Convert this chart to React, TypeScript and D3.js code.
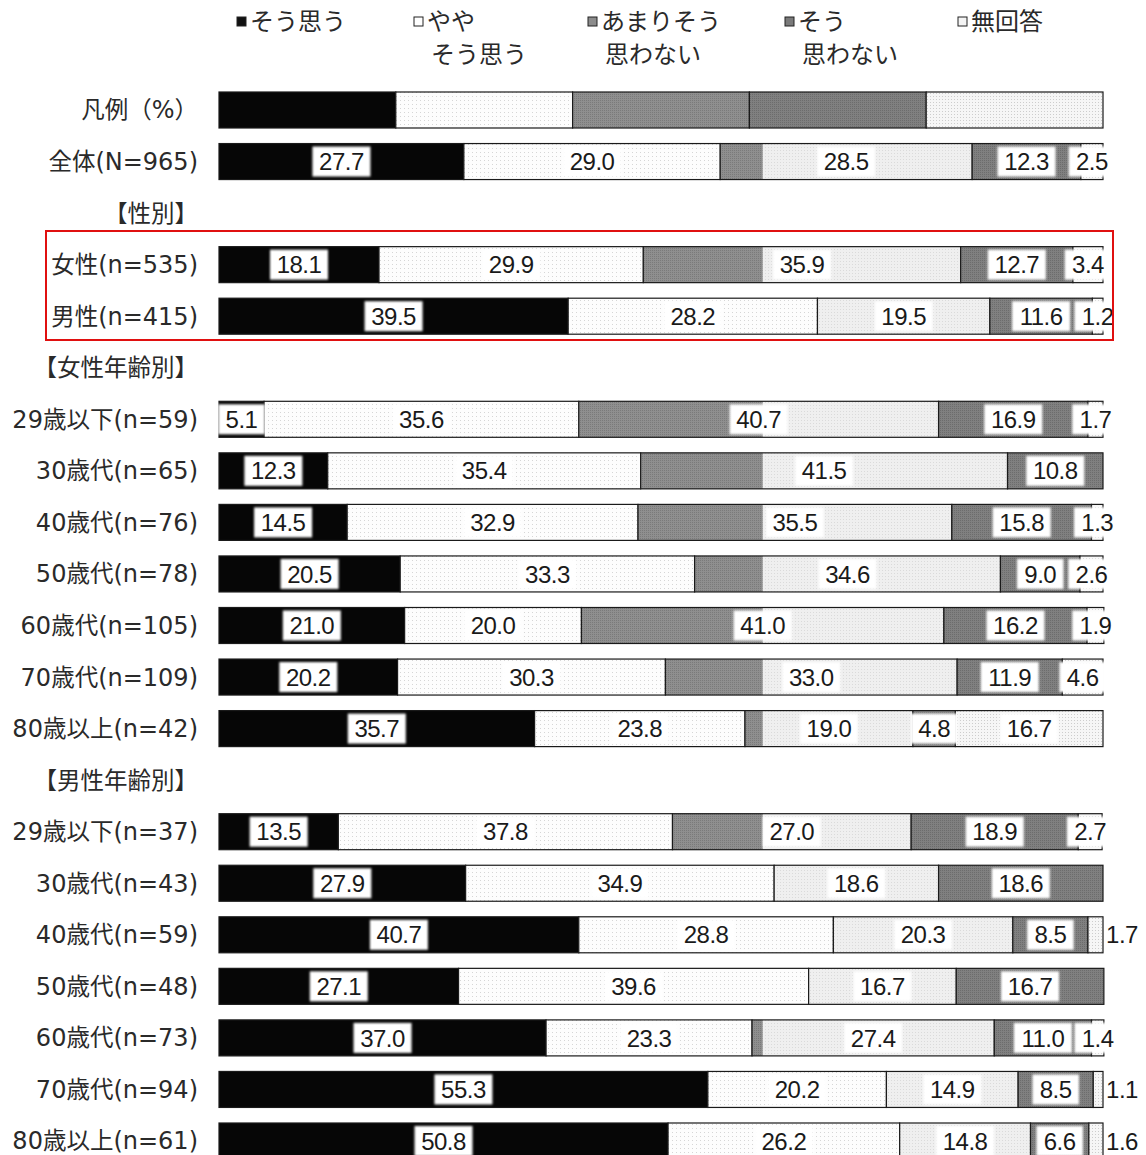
import React from "react";
import * as d3 from "d3";

const rowLabels = [
  "凡例（%）", "全体(N=965)", "【性別】", "女性(n=535)", "男性(n=415)", "【女性年齢別】",
  "29歳以下(n=59)", "30歳代(n=65)", "40歳代(n=76)", "50歳代(n=78)", "60歳代(n=105)", "70歳代(n=109)", "80歳以上(n=42)",
  "【男性年齢別】",
  "29歳以下(n=37)", "30歳代(n=43)", "40歳代(n=59)", "50歳代(n=48)", "60歳代(n=73)", "70歳代(n=94)", "80歳以上(n=61)",
];

const seriesNames = ["そう思う", "ややそう思う", "あまりそう思わない", "そう思わない", "無回答"];
const legendLines = [["そう思う"], ["やや", "そう思う"], ["あまりそう", "思わない"], ["そう", "思わない"], ["無回答"]];

const s1 = [20, 27.7, null, 18.1, 39.5, null, 5.1, 12.3, 14.5, 20.5, 21.0, 20.2, 35.7, null, 13.5, 27.9, 40.7, 27.1, 37.0, 55.3, 50.8];
const s2 = [20, 29.0, null, 29.9, 28.2, null, 35.6, 35.4, 32.9, 33.3, 20.0, 30.3, 23.8, null, 37.8, 34.9, 28.8, 39.6, 23.3, 20.2, 26.2];
const s3 = [20, 28.5, null, 35.9, 19.5, null, 40.7, 41.5, 35.5, 34.6, 41.0, 33.0, 19.0, null, 27.0, 18.6, 20.3, 16.7, 27.4, 14.9, 14.8];
const s4 = [20, 12.3, null, 12.7, 11.6, null, 16.9, 10.8, 15.8, 9.0, 16.2, 11.9, 4.8, null, 18.9, 18.6, 8.5, 16.7, 11.0, 8.5, 6.6];
const s5 = [20, 2.5, null, 3.4, 1.2, null, 1.7, 0, 1.3, 2.6, 1.9, 4.6, 16.7, null, 2.7, 0, 1.7, 0, 1.4, 1.1, 1.6];

// rows whose small last value is written outside the bar
const outsideLabelRows = [16, 19, 20];
// the "あまりそう思わない" fill turns light past this value (artifact of the source)
const lightSplit = 61.5;

const keys = ["s1", "s2", "s3", "s4", "s5"];
const fills = ["#060606", "url(#p2)", "url(#p3)", "url(#p4)", "url(#p5)"];
const swatchFills = ["#111", "#fff", "#8c8c8c", "#7a7a7a", "#f4f4f4"];

const W = 1146, H = 1155;
const CJK = "'Noto Sans CJK JP', 'Noto Sans', sans-serif";
const ASCII = "'DejaVu Sans', 'Noto Sans', sans-serif";
const NUM = "'Liberation Sans Narrow', 'Liberation Sans', Arial, sans-serif";

// split a label into runs of half-width (ASCII) and full-width characters
function runs(s: string) {
  const out: { t: string; ascii: boolean }[] = [];
  for (const ch of s) {
    const a = ch.charCodeAt(0) < 128;
    if (out.length && out[out.length - 1].ascii === a) out[out.length - 1].t += ch;
    else out.push({ t: ch, ascii: a });
  }
  return out;
}

export default function App() {
  const x = d3.scaleLinear().domain([0, 100]).range([219, 1103]);
  const y = d3.scalePoint<number>().domain(d3.range(rowLabels.length)).range([110, 1141]);
  const barH = 36;

  const table = rowLabels
    .map((_, i) => ({ row: i, s1: s1[i], s2: s2[i], s3: s3[i], s4: s4[i], s5: s5[i] }))
    .filter((d) => d.s1 !== null) as any[];
  const stacked = d3.stack<any>().keys(keys)(table);

  const legendX = [237, 414, 588, 785, 958];

  return (
    <svg width={W} height={H} style={{ position: "absolute", left: 0, top: 0, background: "#fff" }}>
      <defs>
        <pattern id="p2" width={4} height={4} patternUnits="userSpaceOnUse">
          <rect width={4} height={4} fill="#fdfdfd" />
          <rect width={1} height={1} fill="#d6d6d6" />
        </pattern>
        <pattern id="p3" width={2} height={2} patternUnits="userSpaceOnUse">
          <rect width={2} height={2} fill="#8f8f8f" />
          <rect width={1} height={1} fill="#7a7a7a" />
        </pattern>
        <pattern id="p3l" width={3} height={3} patternUnits="userSpaceOnUse">
          <rect width={3} height={3} fill="#efefef" />
          <rect width={1} height={1} fill="#dadada" />
        </pattern>
        <pattern id="p4" width={2} height={2} patternUnits="userSpaceOnUse">
          <rect width={2} height={2} fill="#808080" />
          <rect width={1} height={1} fill="#6c6c6c" />
        </pattern>
        <pattern id="p5" width={3} height={3} patternUnits="userSpaceOnUse">
          <rect width={3} height={3} fill="#f6f6f6" />
          <rect width={1} height={1} fill="#cdcdcd" />
        </pattern>
        <filter id="soft" x="-20%" y="-20%" width="140%" height="140%">
          <feGaussianBlur stdDeviation={1.3} />
        </filter>
      </defs>

      {/* legend */}
      {seriesNames.map((name, k) => (
        <g key={name}>
          <rect x={legendX[k]} y={17} width={9} height={9} fill={swatchFills[k]} stroke="#222" strokeWidth={1} />
          {legendLines[k].map((ln, j) => (
            <text key={j} x={legendX[k] + 13 + (j > 0 ? 4 : 0)} y={30 + j * 33} fontFamily={CJK} fontSize={24} fill="#2a2a2a">
              {ln}
            </text>
          ))}
        </g>
      ))}

      {/* row labels */}
      {rowLabels.map((lab, i) => {
        const rs = runs(lab);
        return (
          <text key={i} x={198} y={y(i)!} dy="0.36em" textAnchor="end" fontFamily={CJK} fontSize={23.5} fill="#2a2a2a">
            {rs.map((r, j) => (
              <tspan key={j} fontFamily={r.ascii ? ASCII : CJK} fontSize={r.ascii ? 24 : 23.5}>
                {r.t}
              </tspan>
            ))}
          </text>
        );
      })}

      {/* bars */}
      {stacked.map((layer, k) => (
        <g key={layer.key}>
          {layer.map((d: any) => {
            const r = d.data.row;
            const x0 = x(d[0]);
            const x1 = x(d[1]);
            if (x1 - x0 <= 0) return null;
            const top = y(r)! - barH / 2;
            if (k === 2 && r > 0 && d[1] > lightSplit) {
              const xs = x(Math.max(d[0], lightSplit));
              return (
                <g key={r}>
                  <rect x={x0} y={top} width={x1 - x0} height={barH} fill="url(#p3l)" />
                  {xs > x0 && <rect x={x0} y={top} width={xs - x0} height={barH} fill="url(#p3)" />}
                  <rect x={x0} y={top} width={x1 - x0} height={barH} fill="none" stroke="#1a1a1a" strokeWidth={1.2} />
                </g>
              );
            }
            return (
              <rect key={r} x={x0} y={top} width={x1 - x0} height={barH} fill={fills[k]} stroke="#1a1a1a" strokeWidth={1.2} />
            );
          })}
        </g>
      ))}

      {/* value labels */}
      {stacked.map((layer, k) => (
        <g key={"l" + layer.key}>
          {layer.map((d: any) => {
            const r = d.data.row;
            if (r === 0) return null;
            const v = d[1] - d[0];
            if (v <= 0) return null;
            const txt = d3.format(".1f")(v);
            const outside = k === 4 && outsideLabelRows.includes(r);
            const cx = outside ? x(100) + 19 : (x(d[0]) + x(d[1])) / 2;
            const cy = y(r)!;
            const tw = txt.length * 11.5;
            return (
              <g key={r}>
                {!outside && (
                  <rect x={cx - tw / 2 - 6} y={cy - 15} width={tw + 12} height={30} fill="#fff" filter="url(#soft)" />
                )}
                <text x={cx} y={cy} dy="0.36em" textAnchor="middle" fontFamily={NUM} fontSize={24} letterSpacing={-0.5} fill="#1a1a1a">
                  {txt}
                </text>
              </g>
            );
          })}
        </g>
      ))}

      {/* highlight frame */}
      <rect x={46} y={231} width={1067} height={109} fill="none" stroke="#e01010" strokeWidth={2} />
    </svg>
  );
}
